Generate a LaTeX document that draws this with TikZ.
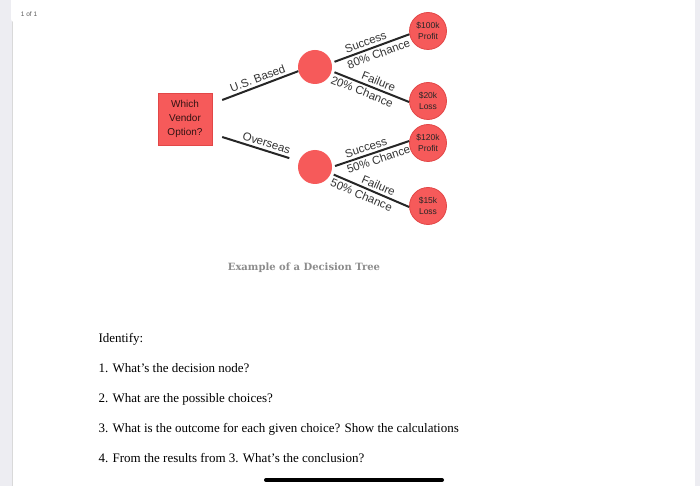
\documentclass[tikz,border=0pt]{standalone}
\usepackage{fontspec}
\setmainfont{Liberation Serif}
\setsansfont{Liberation Sans}
\newfontfamily\capfont{DejaVu Serif}
\usetikzlibrary{calc}
\definecolor{treered}{HTML}{F65A5A}
\definecolor{treeedge}{HTML}{E24747}
\definecolor{stripgray}{HTML}{EDEDF2}

\begin{document}
\begin{tikzpicture}[x=1pt, y=-1pt,
  every node/.style={font=\sffamily\fontsize{11.5}{13}\selectfont},
  chance/.style={circle, fill=treered, minimum size=34pt, inner sep=0pt},
  outcome/.style={circle, fill=treered, draw=treeedge, line width=0.8pt, minimum size=37pt, inner sep=0pt, align=center, text=black!85, font=\sffamily\fontsize{8.5}{10.5}\selectfont},
  branch/.style={line width=2pt, black!85},
  lbl/.style={sloped, text=black!80, inner sep=2.5pt},
  qline/.style={anchor=base west, font=\rmfamily\fontsize{13}{15}\selectfont}]
\useasboundingbox (0,0) rectangle (700,486);
% Viewer frame
\fill[stripgray] (0,0) rectangle (12,486);
\draw[black!15, line width=1.5pt] (12.5,0) -- (12.5,486);
\fill[stripgray] (695,0) rectangle (700,486);
\fill[white, rounded corners=3pt] (11,-4) rectangle (48,22);
\node[font=\sffamily\fontsize{6.5}{7}\selectfont, text=black!65] (pg) at (29,14) {1 of 1};
% Decision node
\node[draw=treeedge, fill=treered, minimum width=54pt, minimum height=52pt, inner sep=1pt, align=center, font=\sffamily\fontsize{10}{14}\selectfont, text=treered!20!black] (dec) at (185,119) {Which\\Vendor\\Option?};
% Chance nodes
\node[chance] (c1) at (315,67) {};
\node[chance] (c2) at (315,167) {};
% Outcomes
\node[outcome] (o1) at (428,31) {\$100k\\Profit};
\node[outcome] (o2) at (428,101) {\$20k\\Loss};
\node[outcome] (o3) at (428,143) {\$120k\\Profit};
\node[outcome] (o4) at (428,206) {\$15k\\Loss};
% Branches
\draw[branch] ($(dec.east)+(10,-19)$) -- (c1.194) node[lbl, midway, above] {U.S. Based};
\draw[branch, shorten >=10pt] ($(dec.east)+(10,18)$) -- (c2.160) node[lbl, pos=0.55, above] {Overseas};
\draw[branch, shorten <=3pt] (c1.14) -- (o1.190) node[lbl, pos=0.47, above] {Success} node[lbl, pos=0.57, below] {80\% Chance};
\draw[branch, shorten <=3pt] (c1.-14) -- (o2.183) node[lbl, pos=0.57, above] {Failure} node[lbl, pos=0.43, below] {20\% Chance};
\draw[branch, shorten <=3pt] (c2.0) -- (o3.174) node[lbl, pos=0.47, above] {Success} node[lbl, pos=0.57, below] {50\% Chance};
\draw[branch, shorten <=3pt] (c2.-22) -- (o4.183) node[lbl, pos=0.57, above] {Failure} node[lbl, pos=0.43, below] {50\% Chance};
% Caption
\node[font=\capfont\bfseries\fontsize{10}{12}\selectfont, text=black!45] (cap) at (304,268) {Example of a Decision Tree};
% Questions
\node[qline] (q0) at (95,342) {Identify:};
\node[qline] (q1) at (95,372) {1. What's the decision node?};
\node[qline] (q2) at (95,402) {2. What are the possible choices?};
\node[qline] (q3) at (95,432) {3. What is the outcome for each given choice? Show the calculations};
\node[qline] (q4) at (95,462) {4. From the results from 3. What's the conclusion?};
\draw[line width=4pt, line cap=round] (266,480) -- (442,480);
\end{tikzpicture}
\end{document}
